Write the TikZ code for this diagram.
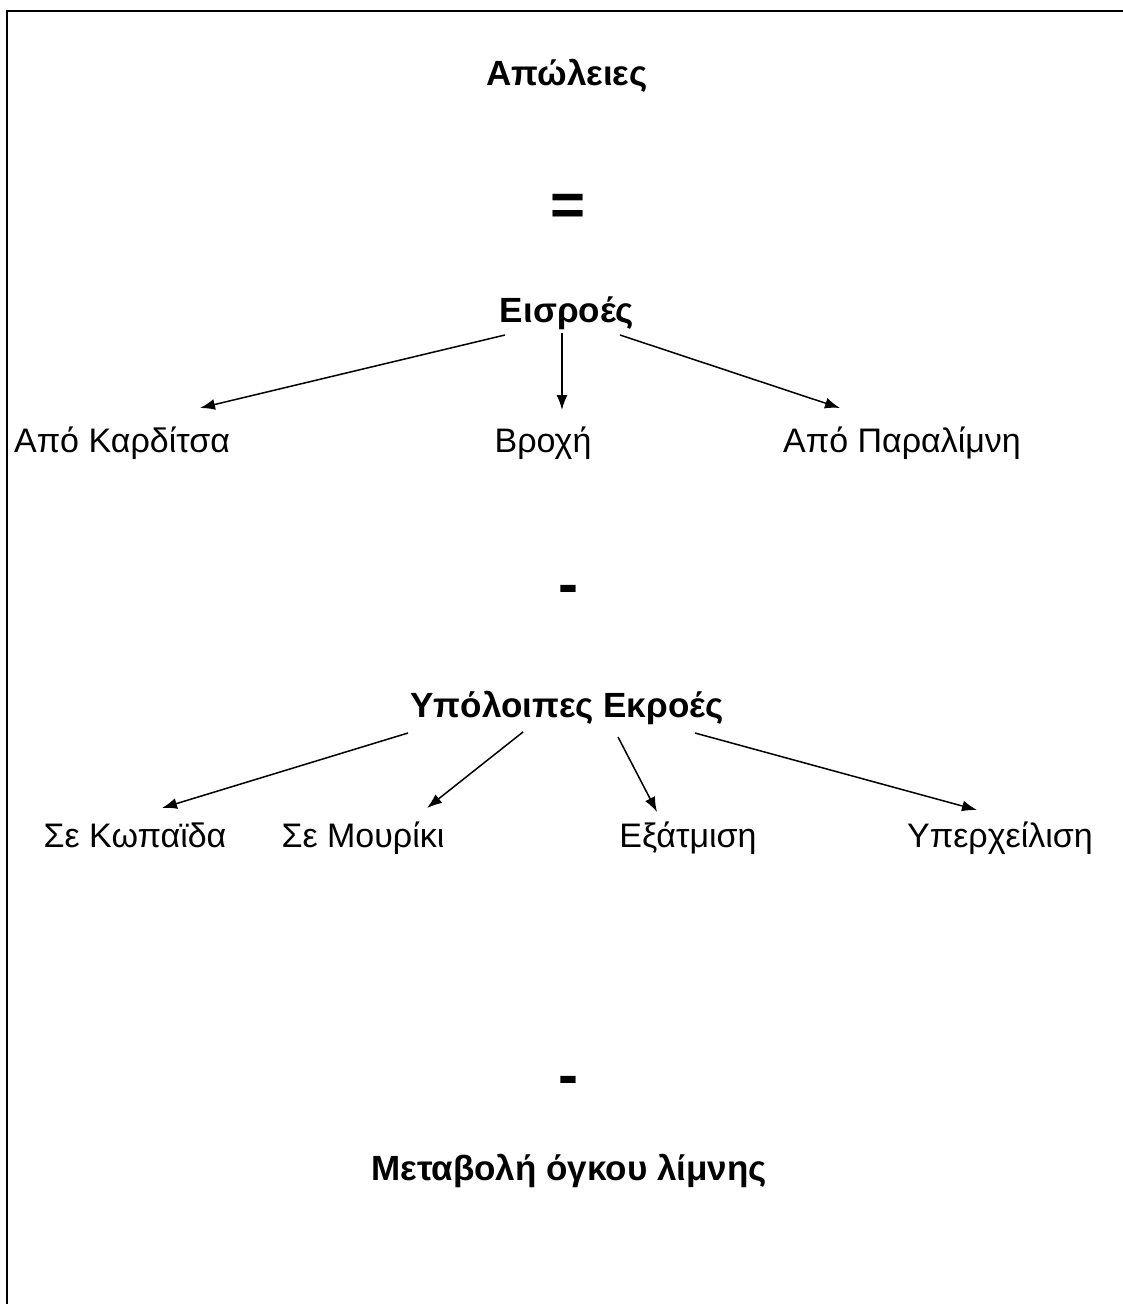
\documentclass[tikz,border=0pt]{standalone}
\usepackage{fontspec}
\setmainfont{Liberation Sans}
\usetikzlibrary{arrows.meta}
\begin{document}
\begin{tikzpicture}[x=1pt,y=-1pt,
  lbl/.style={inner sep=0pt,anchor=base,font=\fontsize{34}{38}\selectfont},
  ttl/.style={inner sep=0pt,anchor=base,font=\fontsize{35}{40}\selectfont\bfseries},
  big/.style={inner sep=0pt,font=\fontsize{60}{62}\selectfont\bfseries},
  arr/.style={line width=1.5pt,-{Latex[length=15pt,width=11pt]}}]
\useasboundingbox (0,0) rectangle (1122,1304);
\fill[white] (0,0) rectangle (1122,1304);
\draw[line width=2.6pt] (7,1310) -- (7,11) -- (1130,11);
\node[ttl] (apo) at (567,85) {Απώλειες};
\node[big] (eq) at (568,210) {=};
\node[ttl] (eis) at (567,322) {Εισροές};
\node[lbl] (kar) at (122,452) {Από Καρδίτσα};
\node[lbl] (vro) at (543,452) {Βροχή};
\node[lbl] (par) at (902,452) {Από Παραλίμνη};
\node[big] (m1) at (568,595) {-};
\node[ttl] (ypo) at (567,717) {Υπόλοιπες Εκροές};
\node[lbl] (kop) at (135,847) {Σε Κωπαϊδα};
\node[lbl] (mou) at (363,847) {Σε Μουρίκι};
\node[lbl] (exa) at (688,847) {Εξάτμιση};
\node[lbl] (yper) at (1000,847) {Υπερχείλιση};
\node[big] (m2) at (568,1086) {-};
\node[ttl] (met) at (569,1180) {Μεταβολή όγκου λίμνης};
\coordinate (e1) at (505,335); \coordinate (k1) at (200,408);
\coordinate (e2) at (562,333); \coordinate (v1) at (562,410);
\coordinate (e3) at (620,335); \coordinate (p1) at (840,408);
\coordinate (y1) at (408,733); \coordinate (ko1) at (162,808);
\coordinate (y2) at (523,732); \coordinate (mo1) at (427,808);
\coordinate (y3) at (618,737); \coordinate (ex1) at (657,812);
\coordinate (y4) at (695,733); \coordinate (yp1) at (977,810);
\draw[arr] (e1) -- (k1);
\draw[arr] (e2) -- (v1);
\draw[arr] (e3) -- (p1);
\draw[arr] (y1) -- (ko1);
\draw[arr] (y2) -- (mo1);
\draw[arr] (y3) -- (ex1);
\draw[arr] (y4) -- (yp1);
\end{tikzpicture}
\end{document}
